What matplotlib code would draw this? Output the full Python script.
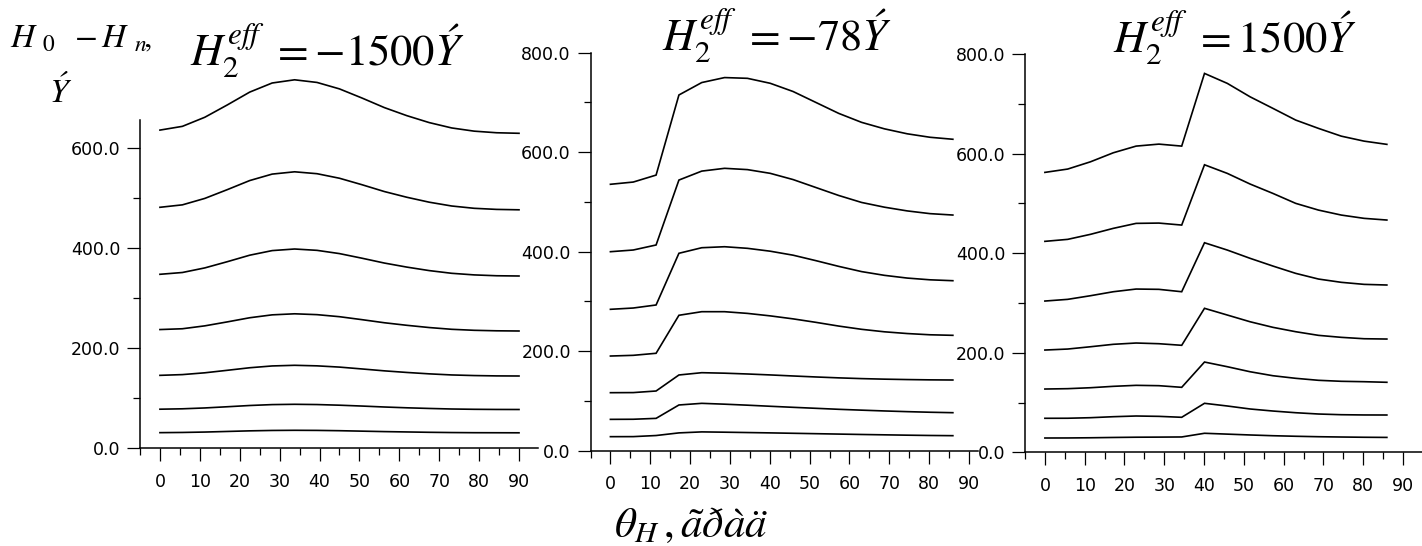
import matplotlib
matplotlib.use("Agg")
import matplotlib.pyplot as plt
from matplotlib.ticker import MultipleLocator, FormatStrFormatter

plt.rcParams['font.family'] = ['DejaVu Sans']
plt.rcParams['mathtext.fontset'] = 'stix'

# ---------------- data ----------------
theta_p1 = [0, 5.625, 11.25, 16.875, 22.5, 28.125, 33.75, 39.375, 45, 50.625,
            56.25, 61.875, 67.5, 73.125, 78.75, 84.375, 90]
theta_p23 = [0, 5.73, 11.46, 17.19, 22.92, 28.65, 34.38, 40.11, 45.84, 51.57,
             57.30, 63.03, 68.75, 74.48, 80.21, 85.94]

# panel 1: H2eff = -1500
p1_c1 = [31.3, 31.7, 32.5, 33.7, 34.9, 35.7, 36.0, 35.8, 35.2, 34.3, 33.4, 32.7, 32.0, 31.5, 31.2, 31.1, 31.0]
p1_c2 = [78.2, 79.0, 80.7, 83.1, 85.6, 87.4, 88.0, 87.5, 86.2, 84.5, 82.6, 81.0, 79.7, 78.6, 78.0, 77.7, 77.6]
p1_c3 = [145.9, 147.4, 151.0, 156.0, 161.1, 164.7, 166.0, 164.9, 162.4, 158.7, 154.9, 151.7, 148.9, 146.7, 145.5, 144.8, 144.6]
p1_c4 = [237.5, 239.1, 244.9, 252.8, 261.1, 266.9, 269.0, 267.3, 263.2, 257.3, 251.1, 246.0, 241.5, 238.0, 236.0, 235.0, 234.6]
p1_c5 = [348.0, 351.6, 360.8, 373.2, 386.2, 395.4, 398.6, 395.9, 389.4, 380.2, 370.5, 362.4, 355.4, 350.0, 346.8, 345.1, 344.6]
p1_c6 = [482.0, 486.9, 499.8, 517.3, 535.5, 548.4, 553.0, 549.2, 540.1, 527.2, 513.5, 502.1, 492.2, 484.6, 480.0, 477.8, 477.0]
p1_c7 = [636.4, 643.9, 662.1, 686.7, 712.4, 730.6, 737.0, 731.7, 718.8, 700.6, 681.4, 665.3, 651.4, 640.7, 634.3, 631.1, 630.0]

# panel 2: H2eff = -78
p2_c1 = [28.2, 28.3, 30.5, 35.8, 37.8, 37.2, 36.5, 35.8, 35.0, 34.2, 33.4, 32.6, 31.9, 31.2, 30.6, 30.2]
p2_c2 = [63.0, 63.2, 65.0, 91.9, 95.2, 93.5, 91.5, 89.3, 87.2, 85.2, 83.2, 81.5, 79.9, 78.5, 77.3, 76.4]
p2_c3 = [116.6, 116.8, 120.0, 152.2, 156.8, 155.8, 154.2, 152.3, 150.2, 148.2, 146.4, 144.9, 143.8, 143.0, 142.4, 142.1]
p2_c4 = [190.3, 191.7, 195.8, 272.2, 279.4, 279.4, 276.0, 271.0, 265.0, 258.0, 250.5, 244.0, 239.0, 235.5, 233.0, 231.9]
p2_c5 = [284.2, 286.8, 292.9, 396.8, 408.0, 410.0, 406.8, 401.0, 393.0, 382.0, 370.5, 360.0, 352.5, 347.0, 343.5, 341.7]
p2_c6 = [400.0, 403.4, 413.5, 544.0, 562.0, 567.6, 565.0, 557.5, 545.0, 529.0, 513.0, 499.0, 489.5, 482.0, 476.5, 473.7]
p2_c7 = [535.5, 540.0, 554.0, 715.0, 740.0, 750.0, 748.5, 738.5, 722.0, 700.0, 678.0, 660.0, 647.0, 637.0, 630.0, 626.0]

# panel 3: H2eff = 1500
p3_c1 = [28.7, 28.8, 29.2, 29.8, 30.3, 30.5, 30.8, 38.2, 36.5, 34.8, 33.3, 32.2, 31.3, 30.7, 30.2, 29.9]
p3_c2 = [68.3, 68.4, 69.5, 71.5, 72.9, 72.2, 70.3, 98.4, 93.0, 87.0, 82.9, 79.5, 76.9, 75.5, 75.0, 74.9]
p3_c3 = [127.1, 127.8, 129.7, 132.5, 134.5, 133.8, 130.5, 181.3, 171.9, 161.8, 153.8, 148.6, 144.6, 142.6, 141.8, 140.6]
p3_c4 = [205.4, 207.4, 212.0, 216.9, 219.5, 218.1, 214.9, 289.2, 275.7, 262.2, 251.0, 242.2, 234.9, 230.9, 228.1, 227.5]
p3_c5 = [303.8, 307.2, 314.5, 322.5, 327.9, 327.3, 322.5, 420.9, 406.2, 389.6, 374.1, 359.4, 348.0, 341.4, 337.3, 336.0]
p3_c6 = [423.7, 427.7, 437.8, 449.8, 459.8, 460.4, 456.4, 577.5, 560.2, 538.8, 520.0, 500.0, 486.5, 476.5, 469.9, 466.5]
p3_c7 = [562.2, 568.9, 583.5, 601.6, 615.0, 619.0, 615.0, 761.0, 741.0, 714.0, 690.8, 667.3, 650.6, 635.0, 625.0, 618.5]

titles = [r'$H_2^{eff}\ =-1500Ý$', r'$H_2^{eff}\ =-78Ý$', r'$H_2^{eff}\ =1500Ý$']
xlabel = r'$\theta_H\,,ãðàä$'
ylabel_1 = r'$H_{\ \,0}\;\;-H_{\ \,n}\!,$'
ylabel_2 = r'$Ý$'

# ---------------- figure ----------------
W, H = 1422, 546
fig = plt.figure(figsize=(W / 100, H / 100), dpi=100)

def px_axes(left, right, bottom_y, top_y):
    return fig.add_axes([left / W, 1 - bottom_y / H, (right - left) / W, (bottom_y - top_y) / H])

panels = [
    (px_axes(140, 538, 448.3, 120.0), theta_p1, [p1_c1, p1_c2, p1_c3, p1_c4, p1_c5, p1_c6, p1_c7], (-5, 94.76), (0, 656.6)),
    (px_axes(590.5, 978, 450.7, 52.7), theta_p23, [p2_c1, p2_c2, p2_c3, p2_c4, p2_c5, p2_c6, p2_c7], (-5, 92.25), (0, 800)),
    (px_axes(1025, 1422, 452.3, 54.0), theta_p23, [p3_c1, p3_c2, p3_c3, p3_c4, p3_c5, p3_c6, p3_c7], (-5, 94.77), (0, 800)),
]

for ax, xs, curves, xl, yl in panels:
    ax.patch.set_visible(False)
    for c in curves:
        ax.plot(xs, c, color='black', lw=1.2, clip_on=False, solid_joinstyle='miter')
    ax.set_xlim(*xl)
    ax.set_ylim(*yl)
    for s in ('top', 'right'):
        ax.spines[s].set_visible(False)
    for s in ('left', 'bottom'):
        ax.spines[s].set_linewidth(1.1)
        ax.spines[s].set_color('black')
    ax.xaxis.set_major_locator(MultipleLocator(10))
    ax.xaxis.set_minor_locator(MultipleLocator(5))
    ax.yaxis.set_major_locator(MultipleLocator(200))
    ax.yaxis.set_minor_locator(MultipleLocator(100))
    ax.yaxis.set_major_formatter(FormatStrFormatter('%.1f'))
    ax.tick_params(which='major', direction='out', length=9.4, width=0.9, labelsize=12.5, colors='black')
    ax.tick_params(which='minor', direction='out', length=4.8, width=0.9)
    ax.tick_params(axis='x', which='major', pad=8.2)
    ax.tick_params(axis='y', which='major', pad=4.8)

# titles
title_pos = [(327.5, 65), (776.5, 50), (1235, 52)]
for t, (x, y) in zip(titles, title_pos):
    fig.text(x / W, 1 - y / H, t, ha='center', va='baseline', fontsize=32)

fig.text(691.5 / W, 1 - 537 / H, xlabel, ha='center', va='baseline', fontsize=31)
fig.text(10 / W, 1 - 47 / H, ylabel_1, ha='left', va='baseline', fontsize=24)
fig.text(61 / W, 1 - 102 / H, ylabel_2, ha='center', va='baseline', fontsize=24)

fig.savefig('out.png', dpi=100)
